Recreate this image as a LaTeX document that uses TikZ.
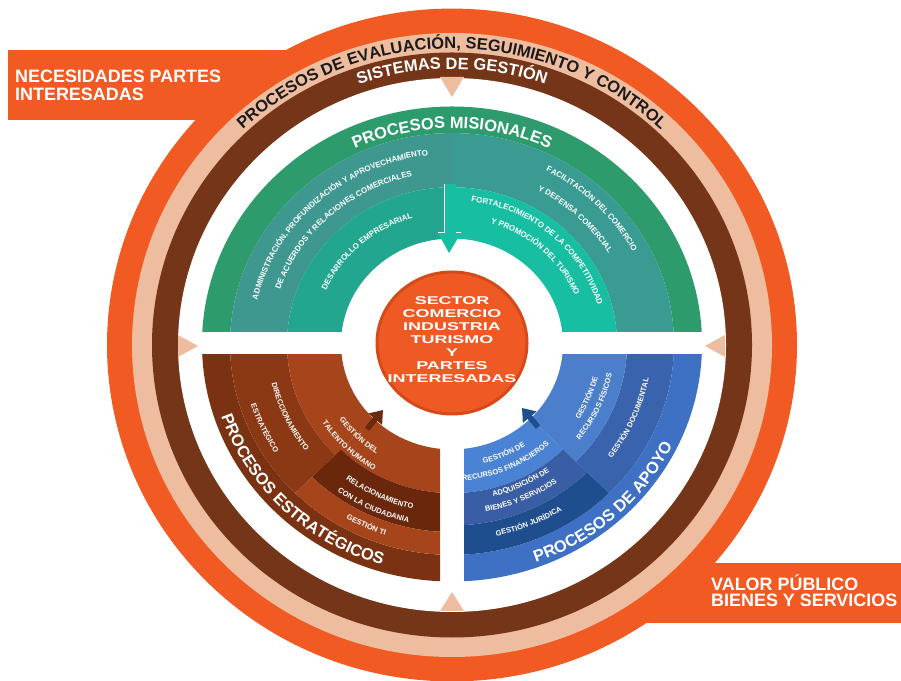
\documentclass[tikz,border=0pt]{standalone}
\usepackage{fontspec}
\usepackage{graphicx}
\setmainfont{Liberation Sans}
\usetikzlibrary{decorations.text,arrows.meta}
\definecolor{orng}{HTML}{F15A22}
\definecolor{peach}{HTML}{EEBC9E}
\definecolor{brwn}{HTML}{743518}
\definecolor{grn}{HTML}{2D9B6B}
\definecolor{tgL}{HTML}{3F988F}
\definecolor{tgR}{HTML}{3A9B93}
\definecolor{tL}{HTML}{22A690}
\definecolor{tR}{HTML}{17BEA2}
\definecolor{bOut}{HTML}{7A3212}
\definecolor{bDir}{HTML}{8A3914}
\definecolor{bTal}{HTML}{A6451B}
\definecolor{bRel}{HTML}{6A270C}
\definecolor{uOut}{HTML}{3E70C3}
\definecolor{uDoc}{HTML}{3A63AE}
\definecolor{uFis}{HTML}{4B7ECB}
\definecolor{uFin}{HTML}{4A83D3}
\definecolor{uAdq}{HTML}{3A5EA6}
\definecolor{uJur}{HTML}{1F4E8E}
\definecolor{ctrF}{HTML}{EF5A24}
\definecolor{ctrB}{HTML}{D44A18}
\definecolor{arrB}{HTML}{6A2A0E}
\definecolor{arrU}{HTML}{1F4E8C}
\definecolor{txtK}{HTML}{1A1A1A}
% annular sector: color, r1, r2, a1, a2 (vertical factor 0.95)
\newcommand\sect[5]{\pgfmathsetmacro\qsa{#2*0.95}\pgfmathsetmacro\qsb{#3*0.95}%
  \fill[#1] (#4:#3bp and \qsb bp) arc[start angle=#4,end angle=#5,x radius=#3bp,y radius=\qsb bp]
  -- (#5:#2bp and \qsa bp) arc[start angle=#5,end angle=#4,x radius=#2bp,y radius=\qsa bp] -- cycle;}
% curved text: r, yfac, start, end, format, text
\newcommand\ctext[6]{\pgfmathsetmacro\qrx{#1}\pgfmathsetmacro\qry{#1*#2}%
  \path[decorate,decoration={text along path,text align=center,text={|#5|#6}}]
  (#3:\qrx bp and \qry bp) arc[start angle=#3,end angle=#4,x radius=\qrx bp,y radius=\qry bp];}
\newcommand\fbig{\fontsize{16.5}{16.5}\selectfont\bfseries\color{white}}
\newcommand\fup{\fontsize{8}{8}\selectfont\bfseries\color{white}}
\newcommand\flo{\fontsize{7.5}{7.5}\selectfont\bfseries\color{white}}
\newcommand\fblk{\fontsize{16.5}{16.5}\selectfont\bfseries\color{txtK}}
\tikzset{banner/.style={anchor=base west,inner sep=0pt,text=white,font=\fontsize{18}{18}\selectfont\bfseries},
  peacharrow/.style={fill=peach}}
\begin{document}
\begin{tikzpicture}[x=1bp,y=1bp]
\useasboundingbox (0,0) rectangle (901,681);
\clip (0,0) rectangle (901,681);
\fill[white] (0,0) rectangle (901,681);
% banners
\fill[orng] (8,561) rectangle (300,631);
\fill[orng] (600,58) rectangle (901,118);
% rings
\begin{scope}[shift={(452,336)}]
\fill[orng] (0,0) ellipse[x radius=345bp, y radius=336.4bp];
\fill[peach] (0,0) ellipse[x radius=320bp, y radius=312bp];
\fill[brwn] (0,0) ellipse[x radius=300bp, y radius=292.5bp];
\fill[white] (0,0) ellipse[x radius=274bp, y radius=267bp];
\ctext{283}{0.975}{150}{30}{\fbig}{SISTEMAS DE GESTIÓN}
\ctext{304}{0.975}{165}{15}{\fblk}{PROCESOS DE EVALUACIÓN{,} SEGUIMIENTO Y CONTROL}
\end{scope}
% peach arrows
\fill[peacharrow] (440,604) -- (464,604) -- (452,584) -- cycle;
\fill[peacharrow] (178,346) -- (178,324) -- (198,335) -- cycle;
\fill[peacharrow] (725,346) -- (725,324) -- (705,335) -- cycle;
\fill[peacharrow] (440,70) -- (464,70) -- (452,89) -- cycle;
% quadrants
\begin{scope}[shift={(452,337)}]
\begin{scope}
\clip (-260,12) rectangle (260,260);
\sect{grn}{222}{250}{0}{180}
\sect{tgL}{165}{222}{90}{180}
\sect{tgR}{165}{222}{0}{90}
\sect{tL}{111}{165}{90}{180}
\sect{tR}{111}{165}{0}{90}
\end{scope}
\begin{scope}
\clip (-260,-260) rectangle (-12,-11);
\sect{bOut}{222}{250}{180}{270}
\sect{bDir}{165}{222}{180}{225}
\sect{bTal}{111}{165}{180}{225}
\sect{bTal}{111}{157}{225}{270}
\sect{bRel}{157}{198}{225}{270}
\sect{bTal}{198}{222}{225}{270}
\end{scope}
\begin{scope}
\clip (12,-260) rectangle (260,-11);
\sect{uOut}{222}{250}{270}{360}
\sect{uDoc}{175}{222}{315}{360}
\sect{uFis}{111}{175}{315}{360}
\sect{uFin}{111}{157}{270}{315}
\sect{uAdq}{157}{191}{270}{315}
\sect{uJur}{191}{222}{270}{315}
\end{scope}
% teal arrow
\fill[tR] (-8,160) -- (4,160) -- (4,111) -- (9,111) -- (-3,91) -- (-14,111) -- (-8,111) -- cycle;
\draw[white,line width=1bp] (-8,160) -- (-8,111) -- (-14,111);
\draw[white,line width=1bp] (4,111) -- (9,111);
% brown and blue arrows
\coordinate (bA1) at (-85,-85);
\coordinate (bA2) at (-69,-66);
\coordinate (uA1) at (86,-83);
\coordinate (uA2) at (70,-64);
\draw[arrB,line width=5.5bp,-{Triangle[width=17bp,length=12bp]}] (bA1) -- (bA2);
\draw[arrU,line width=5.5bp,-{Triangle[width=17bp,length=12bp]}] (uA1) -- (uA2);
% centre
\filldraw[fill=ctrF,draw=ctrB,line width=3bp] (0,1) ellipse[x radius=75bp, y radius=71bp];
\node[text=white,inner sep=0pt,font=\fontsize{18}{20.6}\selectfont\bfseries] (ctr) at (0,3)
  {\scalebox{1}[0.63]{\begin{tabular}{@{}c@{}}SECTOR\\COMERCIO\\INDUSTRIA\\TURISMO\\Y\\PARTES\\INTERESADAS\end{tabular}}};
% texts upper
\ctext{227}{0.95}{150}{30}{\fbig}{PROCESOS MISIONALES}
\ctext{200}{0.95}{200}{65}{\fup}{ADMINISTRACIÓN{,} PROFUNDIZACIÓN Y APROVECHAMIENTO}
\ctext{181}{0.95}{200}{66}{\fup}{DE ACUERDOS Y RELACIONES COMERCIALES}
\ctext{138}{0.95}{192}{72}{\fup}{DESARROLLO EMPRESARIAL}
\ctext{205}{0.95}{104.5}{-15.5}{\fup}{FACILITACIÓN DEL COMERCIO}
\ctext{183}{0.95}{105.7}{-14.3}{\fup}{Y DEFENSA COMERCIAL}
\ctext{151}{0.95}{108.5}{-11.5}{\fup}{FORTALECIMIENTO DE LA COMPETITIVIDAD}
\ctext{133}{0.95}{107}{-13}{\fup}{Y PROMOCIÓN DEL TURISMO}
% texts lower-left
\ctext{243}{0.95}{165}{285}{\fbig}{PROCESOS ESTRATÉGICOS}
\ctext{185}{0.95}{144.5}{264.5}{\flo}{DIRECCIONAMIENTO}
\ctext{211}{0.95}{144.5}{264.5}{\flo}{ESTRATÉGICO}
\ctext{138}{0.95}{165}{285}{\flo}{GESTIÓN DEL}
\ctext{154}{0.95}{165}{285}{\flo}{TALENTO HUMANO}
\ctext{178}{0.95}{184.5}{304.5}{\flo}{RELACIONAMIENTO}
\ctext{193}{0.95}{184.5}{304.5}{\flo}{CON LA CIUDADANIA}
\ctext{212}{0.95}{185}{305}{\flo}{GESTIÓN TI}
% texts lower-right
\ctext{245}{0.95}{253}{373}{\fbig}{PROCESOS DE APOYO}
\ctext{150}{0.95}{278}{398}{\flo}{GESTIÓN DE}
\ctext{163}{0.95}{276}{396}{\flo}{RECURSOS FÍSICOS}
\ctext{200}{0.95}{277}{397}{\flo}{GESTIÓN DOCUMENTAL}
\ctext{130}{0.95}{235}{355}{\flo}{GESTIÓN DE}
\ctext{144}{0.95}{234}{354}{\flo}{RECURSOS FINANCIEROS}
\ctext{166}{0.95}{236}{356}{\flo}{ADQUISICIÓN DE}
\ctext{180}{0.95}{234}{354}{\flo}{BIENES Y SERVICIOS}
\ctext{207}{0.95}{233}{353}{\flo}{GESTIÓN JURÍDICA}
\end{scope}
% banner texts
\node[banner] (nec1) at (15,598) {NECESIDADES PARTES};
\node[banner] (nec2) at (15,580) {INTERESADAS};
\node[banner] (val1) at (711,90) {VALOR PÚBLICO};
\node[banner] (val2) at (711,74) {BIENES Y SERVICIOS};
\end{tikzpicture}
\end{document}
